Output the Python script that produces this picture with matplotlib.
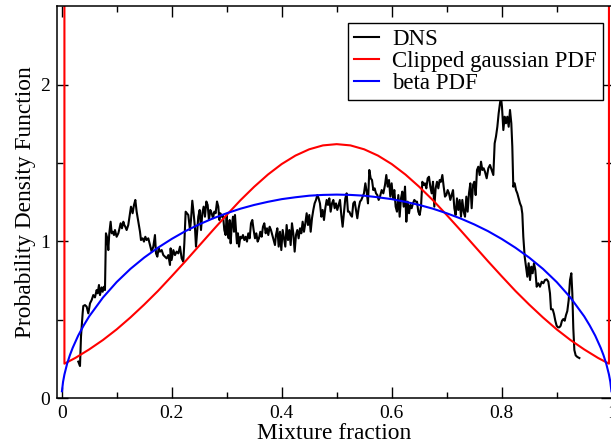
import numpy as np
import matplotlib
matplotlib.use("Agg")
import matplotlib.pyplot as plt

plt.rcParams['font.family'] = ['Liberation Serif', 'DejaVu Serif']

# DNS histogram of the mixture fraction
dns_x = [
    0.0302, 0.0333, 0.0351, 0.0381, 0.0393, 0.0424, 0.0454, 0.0484, 0.0515, 0.0545,
    0.0575, 0.0605, 0.0636, 0.0654, 0.0678, 0.0696, 0.0727, 0.0745, 0.0769, 0.0787,
    0.0805, 0.0830, 0.0848, 0.0866, 0.0890, 0.0909, 0.0927, 0.0951, 0.0969, 0.0999,
    0.1030, 0.1048, 0.1072, 0.1096, 0.1121, 0.1139, 0.1157, 0.1181, 0.1211, 0.1242,
    0.1260, 0.1290, 0.1315, 0.1339, 0.1363, 0.1393, 0.1424, 0.1442, 0.1472, 0.1496,
    0.1521, 0.1545, 0.1575, 0.1605, 0.1636, 0.1666, 0.1696, 0.1715, 0.1739, 0.1763,
    0.1787, 0.1818, 0.1848, 0.1878, 0.1909, 0.1939, 0.1969,
    0.1981, 0.1999, 0.2030, 0.2060, 0.2090, 0.2121, 0.2151, 0.2181, 0.2211, 0.2230,
    0.2254, 0.2278, 0.2302, 0.2333, 0.2351, 0.2375, 0.2399, 0.2424, 0.2442, 0.2460,
    0.2484, 0.2509, 0.2533, 0.2557, 0.2581, 0.2605, 0.2630, 0.2654, 0.2678, 0.2702,
    0.2727, 0.2751, 0.2775, 0.2799, 0.2824, 0.2848, 0.2866, 0.2884, 0.2909, 0.2933,
    0.2957, 0.2981, 0.2999, 0.3018, 0.3036, 0.3054, 0.3072, 0.3090, 0.3115, 0.3133,
    0.3151, 0.3169, 0.3187, 0.3205, 0.3224, 0.3248, 0.3272, 0.3296, 0.3321, 0.3345,
    0.3369, 0.3393, 0.3418, 0.3442, 0.3466, 0.3490, 0.3515, 0.3539, 0.3563, 0.3587,
    0.3611, 0.3636, 0.3660, 0.3684, 0.3709, 0.3733, 0.3757, 0.3781, 0.3805, 0.3830,
    0.3854, 0.3878,
    0.3896, 0.3921, 0.3945, 0.3969, 0.3993, 0.4018, 0.4042, 0.4066, 0.4090, 0.4115,
    0.4139, 0.4163, 0.4187, 0.4211, 0.4236, 0.4260, 0.4284, 0.4308, 0.4333, 0.4357,
    0.4381, 0.4405, 0.4430, 0.4454, 0.4478, 0.4502, 0.4527, 0.4551, 0.4575, 0.4599,
    0.4624, 0.4648, 0.4672, 0.4696, 0.4721, 0.4745, 0.4769, 0.4793, 0.4818, 0.4842,
    0.4866, 0.4890, 0.4915, 0.4939, 0.4963, 0.4987, 0.5011, 0.5036, 0.5060, 0.5084,
    0.5108, 0.5133, 0.5157, 0.5181, 0.5205, 0.5230, 0.5254, 0.5278, 0.5302, 0.5327,
    0.5351, 0.5375, 0.5399, 0.5424, 0.5448, 0.5472, 0.5496, 0.5521, 0.5545, 0.5569,
    0.5593, 0.5618, 0.5642, 0.5666, 0.5690, 0.5715, 0.5739, 0.5763, 0.5787,
    0.5818, 0.5848, 0.5878, 0.5902, 0.5927, 0.5951, 0.5975, 0.5999, 0.6024, 0.6048,
    0.6072, 0.6096, 0.6121, 0.6145, 0.6169, 0.6193, 0.6218, 0.6242, 0.6266, 0.6290,
    0.6315, 0.6339, 0.6363, 0.6387, 0.6412, 0.6436, 0.6460, 0.6484, 0.6509, 0.6533,
    0.6557, 0.6581, 0.6605, 0.6630, 0.6654, 0.6678, 0.6702, 0.6727, 0.6751, 0.6775,
    0.6799, 0.6824, 0.6848, 0.6872, 0.6896, 0.6921, 0.6945, 0.6969, 0.6993, 0.7018,
    0.7042, 0.7066, 0.7090, 0.7115, 0.7139, 0.7163, 0.7187, 0.7211, 0.7236, 0.7260,
    0.7284, 0.7309, 0.7333, 0.7357, 0.7381, 0.7405, 0.7430, 0.7454, 0.7478, 0.7502,
    0.7527, 0.7551, 0.7575, 0.7599, 0.7624, 0.7648, 0.7672, 0.7696,
    0.7727, 0.7757, 0.7787, 0.7818, 0.7848, 0.7872, 0.7896, 0.7921, 0.7945, 0.7969,
    0.7987, 0.8005, 0.8030, 0.8054, 0.8078, 0.8102, 0.8127, 0.8151, 0.8175, 0.8193,
    0.8211, 0.8236, 0.8260, 0.8284, 0.8308, 0.8333, 0.8357, 0.8375, 0.8393, 0.8418,
    0.8442, 0.8466, 0.8490, 0.8515, 0.8539, 0.8563, 0.8587, 0.8611, 0.8636, 0.8666,
    0.8696, 0.8727, 0.8757, 0.8787, 0.8818, 0.8848, 0.8878, 0.8896, 0.8927, 0.8951,
    0.8975, 0.8999, 0.9024, 0.9048, 0.9072, 0.9096, 0.9121, 0.9145, 0.9169, 0.9193,
    0.9218, 0.9242, 0.9266, 0.9284, 0.9302, 0.9321, 0.9345, 0.9375, 0.9412,
]
dns_y = [
    0.232, 0.204, 0.391, 0.540, 0.587, 0.593, 0.583, 0.540, 0.604, 0.625,
    0.657, 0.642, 0.689, 0.668, 0.721, 0.657, 0.706, 0.678, 0.710, 0.689,
    1.051, 1.019, 0.944, 1.051, 1.125, 1.051, 1.061, 1.040, 1.072, 1.029,
    1.051, 1.077, 1.115, 1.083, 1.125, 1.104, 1.093, 1.072, 1.104, 1.179,
    1.221, 1.179, 1.232, 1.264, 1.189, 1.125, 1.061, 1.008, 1.019, 0.998,
    1.029, 1.008, 1.019, 0.976, 0.934, 0.966, 1.040, 0.923, 0.902, 0.955,
    0.934, 0.944, 0.912, 0.902, 0.891, 0.912, 0.849,
    0.955, 0.881, 0.944, 0.912, 0.934, 0.923, 0.966, 0.891, 0.870, 0.987,
    1.189, 1.179, 1.168, 1.072, 1.136, 1.259, 1.179, 1.083, 0.966, 1.051,
    1.157, 1.200, 1.072, 1.179, 1.221, 1.157, 1.254, 1.232, 1.136, 1.200,
    1.179, 1.147, 1.189, 1.179, 1.254, 1.221, 1.136, 1.179, 1.157, 1.168,
    1.072, 1.040, 1.168, 1.051, 1.019, 1.136, 0.987, 1.093, 1.157, 1.061,
    1.168, 1.072, 0.987, 1.051, 0.966, 1.029, 1.019, 1.040, 1.008, 1.029,
    0.998, 1.051, 1.019, 1.115, 1.136, 1.072, 1.019, 1.051, 0.998, 1.019,
    1.061, 1.029, 1.093, 1.115, 1.051, 1.083, 1.040, 1.093, 1.072, 1.040,
    1.008, 0.976,
    1.040, 1.083, 0.966, 1.061, 0.944, 1.072, 1.019, 0.966, 1.104, 1.008,
    1.072, 0.976, 1.115, 1.051, 0.934, 1.040, 1.072, 1.019, 1.083, 1.051,
    1.125, 1.061, 1.115, 1.179, 1.104, 1.168, 1.061, 1.147, 1.200, 1.242,
    1.264, 1.295, 1.274, 1.242, 1.157, 1.200, 1.136, 1.211, 1.264, 1.232,
    1.274, 1.189, 1.242, 1.264, 1.211, 1.242, 1.200, 1.232, 1.264, 1.168,
    1.093, 1.189, 1.274, 1.306, 1.189, 1.189, 1.168, 1.157, 1.242, 1.253,
    1.200, 1.147, 1.211, 1.253, 1.264, 1.285, 1.306, 1.370, 1.317, 1.242,
    1.455, 1.402, 1.391, 1.327, 1.338, 1.306, 1.295, 1.264, 1.285,
    1.327, 1.306, 1.359, 1.423, 1.349, 1.391, 1.285, 1.370, 1.274, 1.327,
    1.221, 1.189, 1.295, 1.157, 1.274, 1.317, 1.221, 1.349, 1.125, 1.253,
    1.179, 1.232, 1.211, 1.242, 1.264, 1.253, 1.253, 1.189, 1.168, 1.221,
    1.380, 1.359, 1.370, 1.338, 1.402, 1.412, 1.349, 1.306, 1.380, 1.221,
    1.338, 1.380, 1.338, 1.391, 1.380, 1.423, 1.349, 1.285, 1.295, 1.327,
    1.306, 1.264, 1.295, 1.327, 1.211, 1.168, 1.274, 1.200, 1.264, 1.157,
    1.264, 1.189, 1.157, 1.285, 1.189, 1.306, 1.370, 1.211, 1.359, 1.380,
    1.295, 1.455, 1.476, 1.423, 1.508, 1.455, 1.466, 1.444,
    1.402, 1.466, 1.487, 1.455, 1.423, 1.625, 1.668, 1.731, 1.817, 1.881,
    1.920, 1.859, 1.710, 1.795, 1.753, 1.795, 1.731, 1.838, 1.753, 1.604,
    1.348, 1.370, 1.327, 1.306, 1.274, 1.242, 1.221, 1.176, 1.029, 0.902,
    0.838, 0.774, 0.860, 0.753, 0.838, 0.796, 0.860, 0.817, 0.710, 0.732,
    0.710, 0.742, 0.732, 0.753, 0.757, 0.742, 0.668, 0.566, 0.566, 0.536,
    0.493, 0.461, 0.451, 0.451, 0.461, 0.493, 0.504, 0.493, 0.529, 0.555,
    0.625, 0.753, 0.796, 0.668, 0.445, 0.306, 0.272, 0.262, 0.255,
]

# clipped gaussian PDF: delta spikes at both ends plus the gaussian part
gauss_x = [0.005, 0.005, 0.025, 0.05, 0.075, 0.1, 0.125, 0.15, 0.175, 0.2, 0.225,
           0.25, 0.275, 0.3, 0.325, 0.35, 0.375, 0.4, 0.425, 0.45, 0.475, 0.5,
           0.525, 0.55, 0.575, 0.6, 0.625, 0.65, 0.675, 0.7, 0.725, 0.75,
           0.775, 0.8, 0.825, 0.85, 0.875, 0.9, 0.925, 0.95, 0.975, 0.995, 0.995]
gauss_y = [30.0, 0.219, 0.256, 0.310, 0.370, 0.438, 0.514, 0.596, 0.683, 0.777, 0.873,
           0.972, 1.071, 1.168, 1.262, 1.348, 1.426, 1.493, 1.547, 1.587, 1.612, 1.620,
           1.612, 1.587, 1.547, 1.493, 1.426, 1.348, 1.262, 1.168, 1.071, 0.972,
           0.873, 0.777, 0.683, 0.596, 0.514, 0.438, 0.370, 0.310, 0.256, 0.219, 30.0]

# beta PDF
beta_x = [0.0005, 0.0025, 0.005, 0.01, 0.015, 0.02, 0.03, 0.04, 0.05, 0.075, 0.1,
          0.125, 0.15, 0.175, 0.2, 0.225, 0.25, 0.275, 0.3, 0.325, 0.35, 0.375,
          0.4, 0.425, 0.45, 0.475, 0.5, 0.525, 0.55, 0.575, 0.6, 0.625, 0.65,
          0.675, 0.7, 0.725, 0.75, 0.775, 0.8, 0.825, 0.85, 0.875, 0.9, 0.925,
          0.95, 0.96, 0.97, 0.98, 0.985, 0.99, 0.995, 0.9975, 0.9995]
beta_y = [0.043, 0.103, 0.150, 0.220, 0.274, 0.320, 0.398, 0.463, 0.521, 0.641, 0.740,
          0.824, 0.896, 0.959, 1.015, 1.065, 1.108, 1.146, 1.179, 1.208, 1.232, 1.252,
          1.269, 1.281, 1.291, 1.296, 1.298, 1.296, 1.291, 1.281, 1.269, 1.252, 1.232,
          1.208, 1.179, 1.146, 1.108, 1.065, 1.015, 0.959, 0.896, 0.824, 0.740, 0.641,
          0.521, 0.463, 0.398, 0.320, 0.274, 0.220, 0.150, 0.103, 0.043]

x_ticks = [0, 0.2, 0.4, 0.6, 0.8, 1.0]
x_tick_labels = ['0', '0.2', '0.4', '0.6', '0.8', '1']
y_ticks = [0, 1, 2]
y_tick_labels = ['0', '1', '2']

fig = plt.figure(figsize=(6.11, 4.48), dpi=100)
ax = fig.add_axes([57 / 611, 50 / 448, 554.7 / 611, 391.75 / 448])

ax.plot(dns_x, dns_y, color='black', lw=1.5, label='DNS')
ax.plot(gauss_x, gauss_y, color='red', lw=1.5, label='Clipped gaussian PDF')
ax.plot(beta_x, beta_y, color='blue', lw=1.5, label='beta PDF')

ax.set_xlim(-0.0085, 1.0)
ax.set_ylim(0, 2.5)
ax.set_xticks(x_ticks)
ax.set_xticklabels(x_tick_labels)
ax.set_xticks([0.1, 0.3, 0.5, 0.7, 0.9], minor=True)
ax.set_yticks(y_ticks)
ax.set_yticklabels(y_tick_labels)
ax.set_yticks([0.5, 1.5], minor=True)

ax.tick_params(which='both', direction='in', top=True, right=True, width=1,
               labelsize=14, pad=5)
ax.tick_params(which='major', length=8)
ax.tick_params(which='minor', length=4)
for sp in ax.spines.values():
    sp.set_linewidth(1.1)

ax.set_xlabel('Mixture fraction', fontsize=16.8, labelpad=1)
ax.set_ylabel('Probability Density Function', fontsize=16.8, labelpad=3)

leg = ax.legend(loc='upper right', bbox_to_anchor=(0.984, 0.957), borderaxespad=0,
                fontsize=16.5, handlelength=1.1, handletextpad=0.6, labelspacing=0.05,
                borderpad=0.25, fancybox=False, framealpha=1, edgecolor='black')
leg.get_frame().set_linewidth(1.0)

fig.savefig('out.png', dpi=100)
